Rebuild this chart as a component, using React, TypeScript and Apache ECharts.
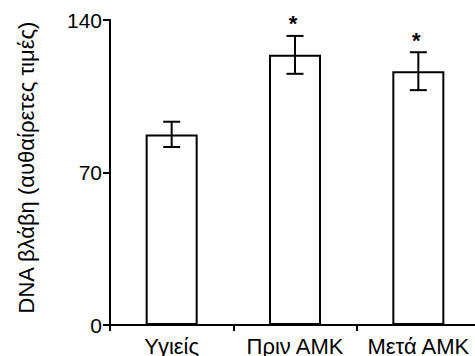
import React, { useEffect, useRef } from "react";
import * as echarts from "echarts";

const categories = ["Υγιείς", "Πριν ΑΜΚ", "Μετά ΑΜΚ"];
const values = [87.5, 124, 116.5];
const errors = [5.8, 8.7, 8.7];
const significance = ["", "*", "*"];
const yTicks = [0, 70, 140];
const yAxisTitle = "DNA βλάβη (αυθαίρετες τιμές)";

const FONT = "'Liberation Sans', Arial, Helvetica, sans-serif";

export default function App() {
  const ref = useRef<HTMLDivElement>(null);
  useEffect(() => {
    if (!ref.current) return;
    const chart = echarts.init(ref.current, null, { renderer: "svg" });
    const errData = values.map((v, i) => [i, v - errors[i], v + errors[i], significance[i]]);
    chart.setOption({
      animation: false,
      grid: { left: 110, top: 20, bottom: 31, width: 370, outerBoundsMode: "none", containLabel: false },
      xAxis: {
        type: "category",
        data: categories,
        axisLine: { lineStyle: { color: "#000", width: 2 } },
        axisTick: { show: true, length: 6, lineStyle: { color: "#000", width: 2 } },
        axisLabel: {
          color: "#000",
          fontSize: 22,
          fontFamily: FONT,
          margin: 10,
          interval: 0,
          hideOverlap: false,
        },
      },
      yAxis: {
        type: "value",
        min: yTicks[0],
        max: yTicks[yTicks.length - 1],
        interval: 70,
        name: yAxisTitle,
        nameLocation: "middle",
        nameRotate: 90,
        nameGap: 73,
        nameTextStyle: { color: "#000", fontSize: 22, fontFamily: FONT, padding: [0, 0, 0, 10] },
        splitLine: { show: false },
        axisLine: { show: true, lineStyle: { color: "#000", width: 2 } },
        axisTick: { show: true, length: 7, lineStyle: { color: "#000", width: 2 } },
        axisLabel: { color: "#000", fontSize: 21, fontFamily: FONT, margin: 8 },
      },
      series: [
        {
          type: "bar",
          data: values,
          barWidth: 52,
          itemStyle: { color: "#fff", borderColor: "#000", borderWidth: 2 },
        },
        {
          type: "custom",
          data: errData,
          z: 10,
          renderItem: (params: any, api: any) => {
            const x = api.value(0);
            const lo = api.coord([x, api.value(1)]);
            const hi = api.coord([x, api.value(2)]);
            const half = 8.5;
            const style = { stroke: "#000", lineWidth: 2 };
            const children: any[] = [
              { type: "line", shape: { x1: hi[0], y1: hi[1], x2: lo[0], y2: lo[1] }, style },
              { type: "line", shape: { x1: hi[0] - half, y1: hi[1], x2: hi[0] + half, y2: hi[1] }, style },
              { type: "line", shape: { x1: lo[0] - half, y1: lo[1], x2: lo[0] + half, y2: lo[1] }, style },
            ];
            const mark = api.value(3);
            if (mark) {
              children.push({
                type: "text",
                style: {
                  text: String(mark),
                  x: hi[0] - 2,
                  y: hi[1] - 1,
                  fill: "#000",
                  font: `bold 22px ${FONT}`,
                  textAlign: "center",
                  textVerticalAlign: "bottom",
                },
              });
            }
            return { type: "group", children };
          },
        },
      ],
    });
    return () => chart.dispose();
  }, []);
  return <div ref={ref} style={{ width: 475, height: 356, position: "absolute", left: 0, top: 0 }} />;
}
